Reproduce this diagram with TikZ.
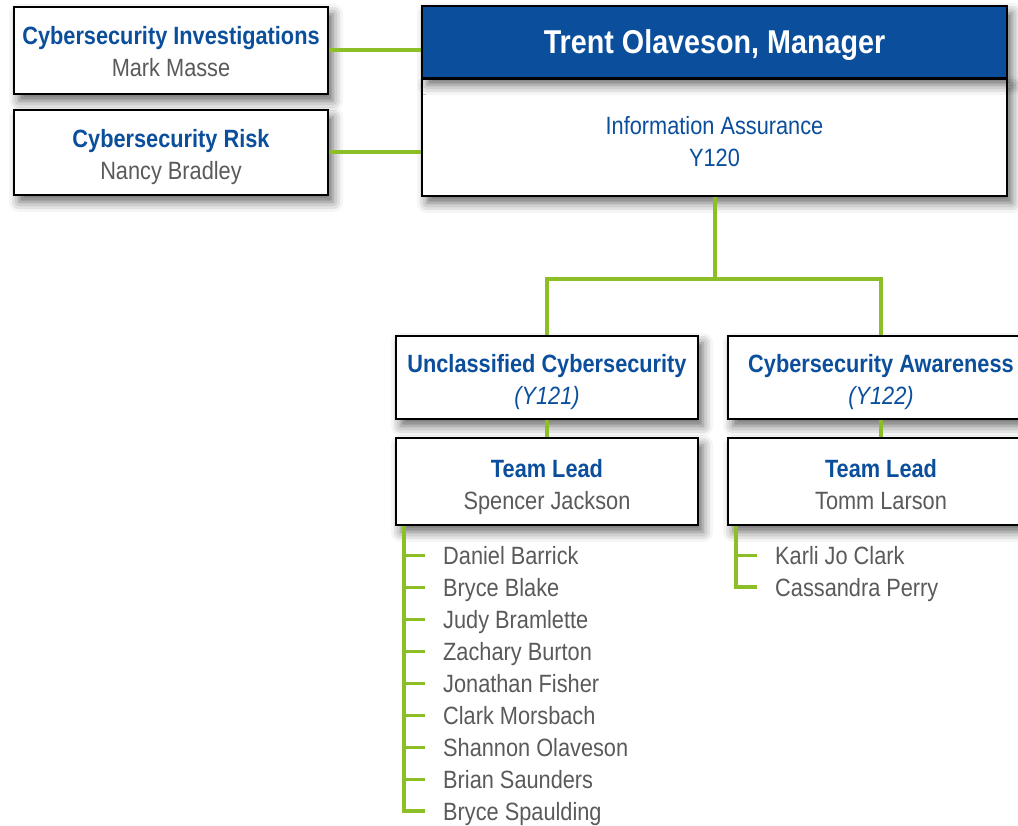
\documentclass[tikz,border=0pt]{standalone}
\usepackage{fontspec}
\setmainfont{Liberation Sans}[FakeStretch=0.87]
\usepackage{tikz}
\usetikzlibrary{shadows.blur}
\definecolor{hdblue}{HTML}{0B4F9C}
\definecolor{namegray}{HTML}{5A5A5A}
\definecolor{lime}{HTML}{8CBF26}
\tikzset{
  box/.style={draw=black, line width=2pt, fill=white, align=center, inner sep=0pt,
    font=\fontsize{25}{32}\selectfont, text height=52pt, text depth=0pt,
    blur shadow={shadow xshift=5pt, shadow yshift=-7pt, shadow blur radius=10pt, shadow opacity=60}},
  head/.style={box, fill=hdblue, text=white, text height=24pt, font=\fontsize{33}{40}\selectfont\bfseries},
  link/.style={draw=lime, line width=4pt},
  tick/.style={draw=lime, line width=3pt},
  member/.style={anchor=west, inner sep=0pt, text height=18pt, text depth=0pt,
    text=namegray, font=\fontsize{25}{32}\selectfont},
}
\newcommand{\orgunit}[1]{{\color{hdblue}\bfseries #1}}
\newcommand{\who}[1]{{\color{namegray}#1}}

\begin{document}
\begin{tikzpicture}[x=1pt, y=-1pt]
  \useasboundingbox (0,0) rectangle (1018,826);

  \node[box, minimum width=314pt, minimum height=87pt] (ci) at (171,50.5)
    {\orgunit{Cybersecurity Investigations}\\\who{Mark Masse}};
  \node[box, minimum width=314pt, minimum height=85pt, text height=55pt] (cr) at (171,152.5)
    {\orgunit{Cybersecurity Risk}\\\who{Nancy Bradley}};

  \node[box, minimum width=585pt, minimum height=117pt, text height=58pt, text=hdblue] (mgrbody) at (714.5,137.5)
    {Information Assurance\\Y120};
  \node[head, minimum width=585pt, minimum height=72pt] (mgr) at (714.5,42)
    {Trent Olaveson, Manager};

  \node[box, minimum width=302pt, minimum height=83pt, text height=54pt] (uc) at (547,377.5)
    {\orgunit{Unclassified Cybersecurity}\\{\color{hdblue}\itshape (Y121)}};
  \node[box, minimum width=306pt, minimum height=83pt, text height=54pt] (ca) at (881,377.5)
    {\orgunit{Cybersecurity Awareness}\\{\color{hdblue}\itshape (Y122)}};
  \node[box, minimum width=302pt, minimum height=87pt, text height=55pt] (tlu) at (547,481.5)
    {\orgunit{Team Lead}\\\who{Spencer Jackson}};
  \node[box, minimum width=306pt, minimum height=87pt, text height=55pt] (tlc) at (881,481.5)
    {\orgunit{Team Lead}\\\who{Tomm Larson}};

  \draw[link] (ci.east) -- (ci.east -| mgrbody.west);
  \draw[link] (cr.east) -- (cr.east -| mgrbody.west);
  \draw[link] (mgrbody.south) -- ++(0,82) -| (uc.north);
  \draw[link] (mgrbody.south) -- ++(0,82) -| (ca.north);
  \draw[link] (uc.south) -- (tlu.north);
  \draw[link] (ca.south) -- (tlc.north);

  \foreach \n [count=\i] in {Daniel Barrick, Bryce Blake, Judy Bramlette, Zachary Burton,
      Jonathan Fisher, Clark Morsbach, Shannon Olaveson, Brian Saunders, Bryce Spaulding}
    \node[member] (du\i) at (443,{523+32*\i}) {\n};
  \foreach \n [count=\i] in {Karli Jo Clark, Cassandra Perry}
    \node[member] (dc\i) at (775,{523+32*\i}) {\n};

  \coordinate (su) at ([xshift=9pt]tlu.south west);
  \coordinate (sc) at ([xshift=9pt]tlc.south west);
  \foreach \i in {1,...,8}
    \draw[tick] (su |- du\i.west) -- ([xshift=-18pt]du\i.west);
  \draw[link] (su) |- ([xshift=-18pt]du9.west);
  \draw[tick] (sc |- dc1.west) -- ([xshift=-18pt]dc1.west);
  \draw[link] (sc) |- ([xshift=-18pt]dc2.west);
\end{tikzpicture}
\end{document}
